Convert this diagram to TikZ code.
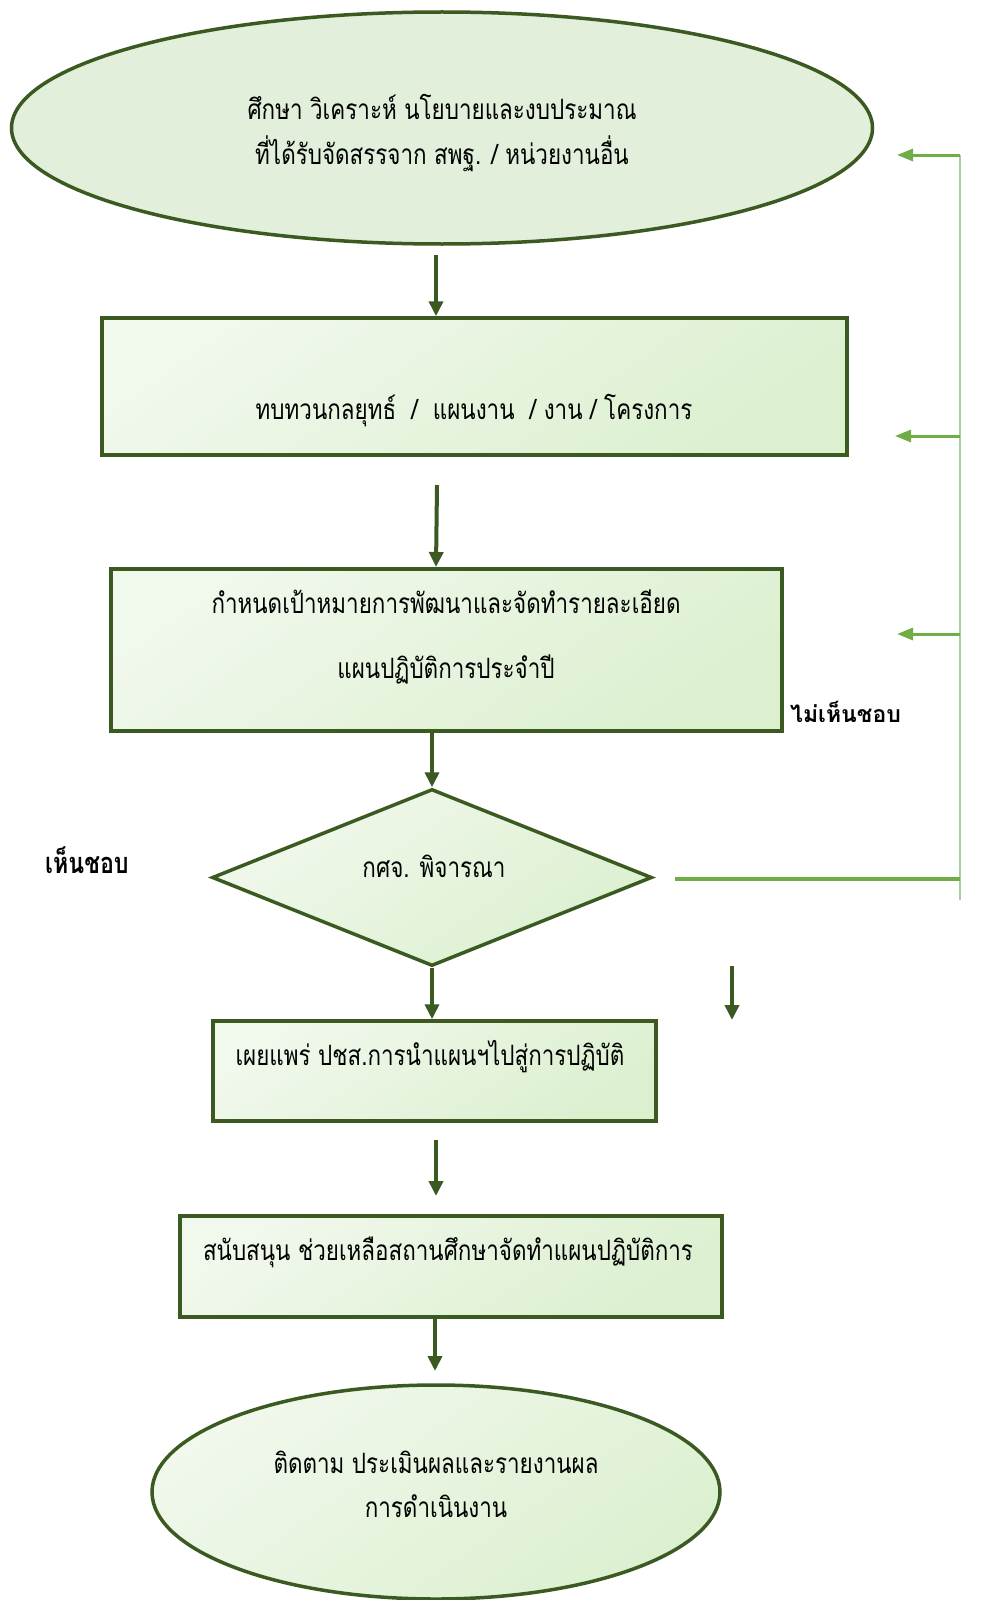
\documentclass[tikz,border=0pt]{standalone}
\usepackage{fontspec}
\usetikzlibrary{arrows.meta,shapes.geometric}
\newfontfamily\thai[Script=Thai, FakeStretch=0.8]{Loma}
\newfontfamily\thaiwide[Script=Thai]{Loma}
\definecolor{dk}{HTML}{3A5A22}
\definecolor{lg}{HTML}{70AD47}
\definecolor{lv}{HTML}{A9CF94}
\definecolor{fa}{HTML}{F1F8EC}
\definecolor{fb}{HTML}{DCF0D0}
\definecolor{fe}{HTML}{E2EFDA}
\tikzset{
  shp/.style={draw=dk, line width=3.5pt, top color=fa, bottom color=fb, shading angle=35, inner sep=0pt},
  txt/.style={font=\thai\fontsize{28}{34}\selectfont, align=center, text=black, inner sep=0pt},
  darr/.style={draw=dk, line width=4pt, -{Triangle[length=15pt,width=14pt]}},
  garr/.style={draw=lg, line width=3pt, -{Triangle[length=16pt,width=12pt]}},
  gline/.style={draw=lg, line width=3.5pt},
}
\begin{document}
\begin{tikzpicture}[x=1pt,y=-1pt]
\useasboundingbox (0,0) rectangle (980,1600);
\clip (0,0) rectangle (980,1600);
% shapes
\node[draw=dk, line width=3.5pt, fill=fe, ellipse, minimum width=861pt, minimum height=232pt, inner sep=0pt] (e1) at (442,128) {};
\node[shp, rectangle, minimum width=745pt, minimum height=137pt] (b1) at (474.5,386.5) {};
\node[shp, rectangle, minimum width=671pt, minimum height=162pt] (b2) at (446.5,650) {};
\node[shp, diamond, minimum width=440pt, minimum height=177pt] (d1) at (432,877.5) {};
\node[shp, rectangle, minimum width=443pt, minimum height=100pt] (b3) at (434.5,1071) {};
\node[shp, rectangle, minimum width=542pt, minimum height=101pt] (b4) at (451,1266.5) {};
\node[shp, ellipse, minimum width=568pt, minimum height=214pt] (e2) at (436,1492) {};
% texts
\node[txt] (t1) at (442,133) {ศึกษา วิเคราะห์ นโยบายและงบประมาณ\\[11pt]ที่ได้รับจัดสรรจาก สพฐ. / หน่วยงานอื่น};
\node[txt] (t2) at (474,411) {ทบทวนกลยุทธ์ \ / \ แผนงาน \ / งาน / โครงการ};
\node[txt] (t3) at (446,637) {กำหนดเป้าหมายการพัฒนาและจัดทำรายละเอียด\\[31pt]แผนปฏิบัติการประจำปี};
\node[txt] (t4) at (434,866) {กศจ. พิจารณา};
\node[txt] (t5) at (430,1057) {เผยแพร่ ปชส.การนำแผนฯไปสู่การปฏิบัติ};
\node[txt] (t6) at (448,1252) {สนับสนุน ช่วยเหลือสถานศึกษาจัดทำแผนปฏิบัติการ};
\node[txt] (t7) at (436,1484) {ติดตาม ประเมินผลและรายงานผล\\[10pt]การดำเนินงาน};
\node[font=\thaiwide\bfseries\fontsize{23}{26}\selectfont, inner sep=0pt, anchor=west] (l1) at (790,712) {ไม่เห็นชอบ};
\node[font=\thai\bfseries\fontsize{29}{34}\selectfont, inner sep=0pt, anchor=west] (l2) at (45,860) {เห็นชอบ};
% dark arrows
\coordinate (a1s) at (436,255);
\draw[darr] (a1s) -- (b1.north -| a1s);
\coordinate (a2s) at (437,485);
\draw[darr] (a2s) -- (436,567) coordinate (a2e);
\draw[darr] (b2.south -| d1.north) -- (d1.north);
\draw[darr] (d1.south) -- (b3.north -| d1.south);
\coordinate (a5s) at (732,966);
\coordinate (a5e) at (732,1020);
\draw[darr] (a5s) -- (a5e);
\coordinate (a6s) at (436,1140);
\coordinate (a6e) at (436,1196);
\draw[darr] (a6s) -- (a6e);
\draw[darr] (b4.south -| 435,0) -- (435,1371) coordinate (a7e);
% green feedback
\coordinate (vtop) at (960,155);
\coordinate (vbot) at (960,900);
\coordinate (hstart) at (675,879);
\draw[draw=lv, line width=1.5pt] (vtop) -- (vbot);
\draw[gline] (hstart) -- (hstart -| vtop);
\draw[garr] (vtop) -- (897,155) coordinate (g1);
\draw[garr] (960,436) coordinate (g2s) -- (895,436) coordinate (g2);
\draw[garr] (960,634) coordinate (g3s) -- (897,634) coordinate (g3);
\end{tikzpicture}
\end{document}
